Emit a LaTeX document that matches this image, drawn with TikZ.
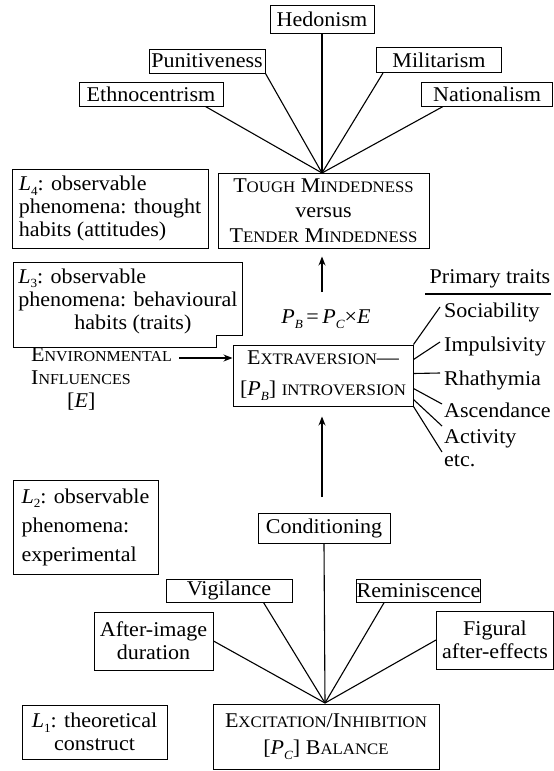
\documentclass[tikz,border=0pt]{standalone}
\usepackage{fontspec}
\setmainfont{Liberation Serif}[FakeStretch=1.05]
\usetikzlibrary{arrows.meta}
\newcommand\mf{\fontsize{21}{23}\selectfont}
\newcommand\sca[1]{{\fontsize{16}{18}\selectfont #1}}
\newcommand\scb[1]{{\fontsize{15.2}{18}\selectfont #1}}
\newcommand\sbs[1]{\raisebox{-0.22em}{\fontsize{12.5}{12.5}\selectfont #1}}
\begin{document}
\begin{tikzpicture}[x=1pt,y=-1pt,
  bx/.style={draw, line width=1pt, inner sep=0pt, align=center, font=\mf},
  ln/.style={line width=1.1pt},
  arr/.style={line width=1.1pt, -{Stealth[length=9pt,width=7pt]}},
  tx/.style={inner sep=0pt, font=\mf}]
\useasboundingbox (0,0) rectangle (554,771);
% top fan
\node[bx, minimum width=104pt, minimum height=28pt] (hed) at (322,19) {Hedonism};
\node[bx, minimum width=116pt, minimum height=24pt] (pun) at (207,61) {Punitiveness};
\node[bx, minimum width=125pt, minimum height=25pt] (mil) at (439,60) {Militarism};
\node[bx, minimum width=144pt, minimum height=24pt] (eth) at (151,94) {Ethnocentrism};
\node[bx, minimum width=131pt, minimum height=24pt] (nat) at (487,94) {Nationalism};
\node[bx, minimum width=211pt, minimum height=75pt] (tough) at (323.5,210.5)
  {T\sca{OUGH} M\sca{INDEDNESS}\\[2pt] versus\\[2pt] T\sca{ENDER} M\sca{INDEDNESS}};
\coordinate (apx) at (322,173);
\draw[ln] ([xshift=-18pt]eth.south east) -- (apx);
\draw[ln] (pun.south east) -- (apx);
\draw[ln] (hed.south) -- (apx);
\draw[ln] ([xshift=7pt]mil.south west) -- (apx);
\draw[ln] ([xshift=22pt]nat.south west) -- (apx);
% L4
\node[bx, minimum width=196pt, minimum height=79pt, align=left] (l4) at (110,208.5)
  {\textit{L}\sbs{4}: observable\\ phenomena: thought\\ habits (attitudes)};
% arrow to tough
\coordinate (a1) at (322,292);
\draw[arr, shorten >=8pt] (a1) -- (a1 |- tough.south);
% L3
\draw[line width=1pt] (13,262) -- (242,262) -- (242,335) -- (216,335) -- (216,347) -- (13,347) -- cycle;
\node[tx, align=left] (l3) at (128,301)
  {\textit{L}\sbs{3}: observable\\ phenomena: behavioural\\ \hspace*{56pt}habits (traits)};
% equation
\node[tx] (eq) at (326,319) {\textit{P}\sbs{\itshape B}\,=\,\textit{P}\sbs{\itshape C}×\textit{E}};
% extraversion
\node[bx, minimum width=180pt, minimum height=61pt] (ext) at (323,375.5)
  {E\sca{XTRAVERSION}—\\[8pt] {[}\textit{P}\sbs{\itshape B}{]} \sca{INTROVERSION}};
% environmental
\node[tx, align=left, anchor=west] (env) at (31,379)
  {E\scb{NVIRONMENTAL}\\ I\scb{NFLUENCES}\\ \hspace*{36pt}{[}\textit{E}{]}};
\coordinate (ea) at (179,358);
\draw[arr] (ea) -- (ea -| ext.west);
% primary traits
\node[tx] (pt) at (490,279) {Primary traits};
\draw[ln] ([xshift=-4pt]pt.west |- 0,294) -- (pt.east |- 0,294);
\node[tx, anchor=base west] (soc) at (444,317) {Sociability};
\node[tx, anchor=base west] (imp) at (444,351) {Impulsivity};
\node[tx, anchor=base west] (rha) at (444,385) {Rhathymia};
\node[tx, anchor=base west] (asc) at (444,417) {Ascendance};
\node[tx, anchor=base west] (act) at (444,443) {Activity};
\node[tx, anchor=base west] (etc) at (444,466) {etc.};
\draw[ln] (ext.north east) -- ([xshift=-4pt,yshift=10pt]soc.base west);
\draw[ln] ([yshift=-15pt]ext.north east) -- ([xshift=-4pt,yshift=9pt]imp.base west);
\draw[ln] ([yshift=-29pt]ext.north east) -- ([xshift=-4pt,yshift=12pt]rha.base west);
\draw[ln] ([yshift=-44pt]ext.north east) -- ([xshift=-2pt,yshift=13pt]asc.base west);
\draw[ln] ([yshift=-55pt]ext.north east) -- ([xshift=-2pt,yshift=17pt]act.base west);
\draw[ln] (ext.south east) -- ([xshift=-2pt,yshift=14pt]etc.base west);
% arrow from below
\coordinate (a2) at (322,497);
\draw[arr, shorten >=10pt] (a2) -- (a2 |- ext.south);
% L2
\node[bx, minimum width=145pt, minimum height=94pt, align=left, font=\fontsize{21}{29}\selectfont] (l2) at (85.5,527)
  {\textit{L}\sbs{2}: observable\\ phenomena:\\ experimental};
% bottom fan
\node[bx, minimum width=132pt, minimum height=30pt] (cond) at (324,528.5) {Conditioning};
\node[bx, minimum width=126pt, minimum height=23pt] (vig) at (229,590.5) {Vigilance};
\node[bx, minimum width=123pt, minimum height=23pt] (rem) at (418.5,590.5) {Reminiscence};
\node[bx, minimum width=119pt, minimum height=58pt] (aft) at (153.5,641) {After-image\\ duration};
\node[bx, minimum width=117pt, minimum height=58pt] (fig) at (495,640) {Figural\\ after-effects};
\node[bx, minimum width=226pt, minimum height=65pt] (exc) at (326,736.5)
  {E\sca{XCITATION}/I\sca{NHIBITION}\\[4pt] {[}\textit{P}\sbs{\itshape C}{]} B\sca{ALANCE}};
\node[bx, minimum width=145pt, minimum height=54pt] (l1) at (94.5,732)
  {\textit{L}\sbs{1}: theoretical\\ construct};
\coordinate (apx2) at (325,703);
\draw[ln] (cond.south) -- (apx2);
\draw[ln] ([xshift=-29pt]vig.south east) -- (apx2);
\draw[ln] (aft.east) -- (apx2);
\draw[ln] ([xshift=28pt]rem.south west) -- (apx2);
\draw[ln] (fig.west) -- (apx2);
\end{tikzpicture}
\end{document}
